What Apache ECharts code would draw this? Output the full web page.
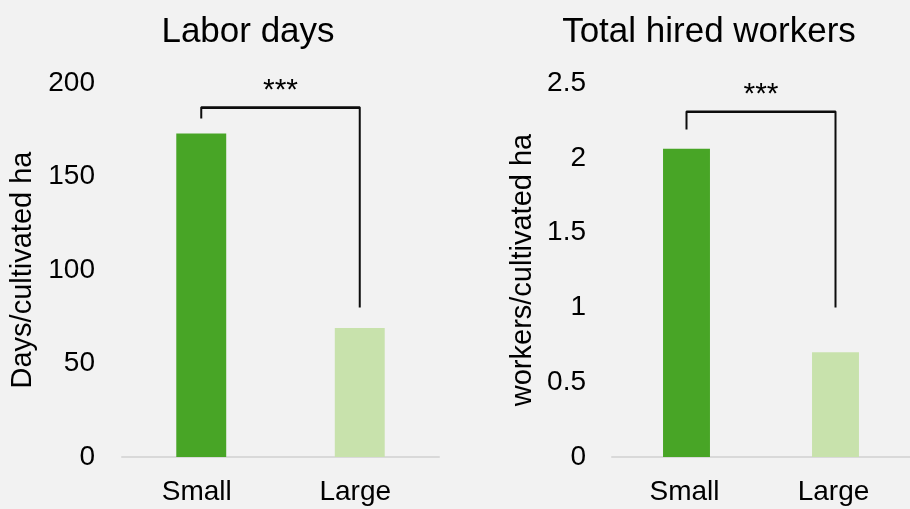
<!DOCTYPE html>
<html><head><meta charset="utf-8">
<script src="https://cdn.jsdelivr.net/npm/echarts@6/dist/echarts.min.js"></script>
<style>html,body{margin:0;padding:0;background:#F2F2F2;}#c{width:910px;height:509px;}</style>
</head><body><div id="c"></div>
<script>
const categories = ['Small', 'Large'];
const laborDays = [173, 69];
const hiredWorkers = [2.06, 0.70];
const titles = ['Labor days', 'Total hired workers'];
const yNames = ['Days/cultivated ha', 'workers/cultivated ha'];
const bracket1 = [181, 187, 187, 80];
const bracket2 = [2.19, 2.31, 2.31, 1.0];
const sigLabel = '***';

const FONT = 'Liberation Sans, Arial, sans-serif';
const barColors = ['#48A526', '#C8E2AC'];

function barData(vals){ return vals.map((v,i)=>({value:v, itemStyle:{color:barColors[i]}})); }
function bracketData(b){ return [[0,b[0]],[0,b[1]],[1,b[2]],[1,b[3]]]; }

const chart = echarts.init(document.getElementById('c'));
chart.setOption({
  backgroundColor: '#F2F2F2',
  animation: false,
  textStyle: {fontFamily: FONT},
  title: [
    {text: titles[0], left: 243, top: 10, textAlign: 'center', textStyle:{fontFamily:FONT, fontSize:35, fontWeight:'normal', color:'#000'}},
    {text: titles[1], left: 704, top: 10, textAlign: 'center', textStyle:{fontFamily:FONT, fontSize:35, fontWeight:'normal', color:'#000'}}
  ],
  grid: [
    {left: 122, width: 317, top: 83, bottom: 52},
    {left: 612, width: 304, top: 83, bottom: 52}
  ],
  xAxis: [0,1].map(i=>({
    type:'category', gridIndex:i, data: categories,
    axisLine:{lineStyle:{color:'#D9D9D9', width:2}},
    axisTick:{show:false},
    axisLabel:{color:'#000', fontSize:28, fontFamily:FONT, margin:21, padding: i === 0 ? [0,9,0,0] : [0,4,0,0]}
  })),
  yAxis: [
    {type:'value', gridIndex:0, min:0, max:200, interval:50,
     name: yNames[0], nameLocation:'middle', nameRotate:90, nameGap:85,
     nameTextStyle:{color:'#000', fontSize:29, fontFamily:FONT},
     axisLine:{show:false}, axisTick:{show:false}, splitLine:{show:false},
     axisLabel:{color:'#000', fontSize:28, fontFamily:FONT, margin:27}},
    {type:'value', gridIndex:1, min:0, max:2.5, interval:0.5,
     name: yNames[1], nameLocation:'middle', nameRotate:90, nameGap:75,
     nameTextStyle:{color:'#000', fontSize:29, fontFamily:FONT},
     axisLine:{show:false}, axisTick:{show:false}, splitLine:{show:false},
     axisLabel:{color:'#000', fontSize:28, fontFamily:FONT, margin:26}}
  ],
  series: [
    {type:'bar', xAxisIndex:0, yAxisIndex:0, data: barData(laborDays), barWidth:'31.5%'},
    {type:'bar', xAxisIndex:1, yAxisIndex:1, data: barData(hiredWorkers), barWidth:'31.5%'},
    {type:'line', xAxisIndex:0, yAxisIndex:0, data: bracketData(bracket1), symbol:'none',
     lineStyle:{color:'#0D0D0D', width:2}, silent:true, z:5,
     markLine:{symbol:'none', silent:true, lineStyle:{color:'#0D0D0D', width:2, type:'solid'},
       label:{show:true, position:'middle', formatter:sigLabel, color:'#000', fontSize:30, fontFamily:FONT, distance:2},
       data:[[{coord:[0,bracket1[1]]},{coord:[1,bracket1[2]]}]]}},
    {type:'line', xAxisIndex:1, yAxisIndex:1, data: bracketData(bracket2), symbol:'none',
     lineStyle:{color:'#0D0D0D', width:2}, silent:true, z:5,
     markLine:{symbol:'none', silent:true, lineStyle:{color:'#0D0D0D', width:2, type:'solid'},
       label:{show:true, position:'middle', formatter:sigLabel, color:'#000', fontSize:30, fontFamily:FONT, distance:2},
       data:[[{coord:[0,bracket2[1]]},{coord:[1,bracket2[2]]}]]}}
  ]
});
</script></body></html>
